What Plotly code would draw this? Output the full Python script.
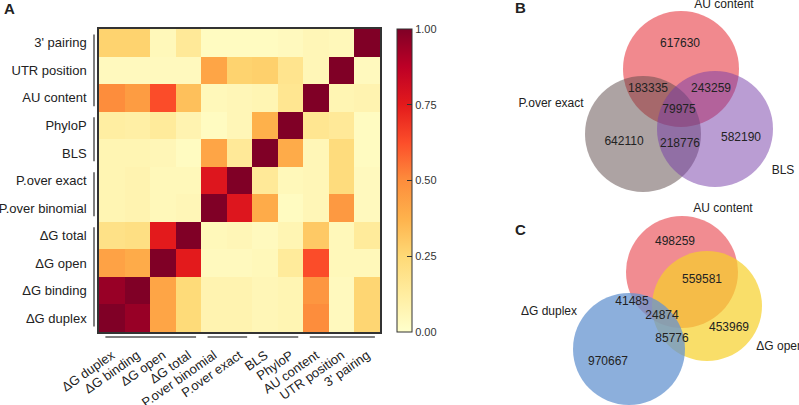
import plotly.graph_objects as go

# ---------------- data ----------------
features = ["ΔG duplex", "ΔG binding", "ΔG open", "ΔG total", "P.over binomial",
            "P.over exact", "BLS", "PhyloP", "AU content", "UTR position", "3' pairing"]

# correlation rows, listed bottom (ΔG duplex) to top (3' pairing); columns follow `features`
row_dg_duplex   = [1.00, 0.95, 0.42, 0.24, 0.08, 0.08, 0.06, 0.07, 0.50, 0.04, 0.26]
row_dg_binding  = [0.95, 1.00, 0.42, 0.24, 0.08, 0.08, 0.06, 0.07, 0.47, 0.04, 0.26]
row_dg_open     = [0.43, 0.40, 1.00, 0.75, 0.04, 0.04, 0.05, 0.14, 0.63, 0.05, 0.05]
row_dg_total    = [0.20, 0.21, 0.75, 1.00, 0.05, 0.06, 0.04, 0.07, 0.30, 0.05, 0.14]
row_pbinomial   = [0.07, 0.08, 0.05, 0.06, 1.00, 0.77, 0.40, 0.03, 0.06, 0.46, 0.04]
row_pexact      = [0.07, 0.08, 0.05, 0.05, 0.77, 1.00, 0.15, 0.05, 0.06, 0.23, 0.04]
row_bls         = [0.07, 0.07, 0.06, 0.03, 0.42, 0.15, 1.00, 0.40, 0.06, 0.23, 0.03]
row_phylop      = [0.12, 0.11, 0.14, 0.08, 0.03, 0.06, 0.38, 1.00, 0.17, 0.15, 0.03]
row_au          = [0.50, 0.45, 0.63, 0.33, 0.05, 0.06, 0.07, 0.17, 1.00, 0.07, 0.08]
row_utr         = [0.04, 0.04, 0.04, 0.04, 0.42, 0.27, 0.28, 0.18, 0.06, 1.00, 0.04]
row_pairing     = [0.27, 0.27, 0.05, 0.15, 0.03, 0.03, 0.03, 0.04, 0.06, 0.05, 1.00]

corr = [row_dg_duplex, row_dg_binding, row_dg_open, row_dg_total, row_pbinomial,
        row_pexact, row_bls, row_phylop, row_au, row_utr, row_pairing]

colorbar_ticks = [0.0, 0.25, 0.5, 0.75, 1.0]
feature_groups = [[0, 3], [4, 5], [6, 7], [8, 10]]

# Venn B: AU content / P.over exact / BLS
venn_b_sets = ["AU content", "P.over exact", "BLS"]
venn_b_counts = [617630, 642110, 582190, 183335, 243259, 218776, 79975]
# Venn C: AU content / ΔG duplex / ΔG open
venn_c_sets = ["AU content", "ΔG duplex", "ΔG open"]
venn_c_counts = [498259, 970667, 453969, 41485, 559581, 85776, 24874]

# ---------------- layout geometry (pixels) ----------------
W, H = 799, 405
hm_left, hm_right, hm_top, hm_bottom = 99, 380, 29, 332

FONT = "Liberation Sans, Arial, sans-serif"

ylorrd = [[0.0, "#ffffcc"], [0.125, "#ffeda0"], [0.25, "#fed976"], [0.375, "#feb24c"],
          [0.5, "#fd8d3c"], [0.625, "#fc4e2a"], [0.75, "#e31a1c"], [0.875, "#bd0026"],
          [1.0, "#800026"]]

fig = go.Figure()

fig.add_trace(go.Heatmap(
    z=corr, x=features, y=features, zmin=0, zmax=1, colorscale=ylorrd,
    xgap=0, ygap=0,
    colorbar=dict(
        x=397 / W, xanchor="left", y=1 - hm_top / H, yanchor="top",
        len=(hm_bottom - hm_top) / H, lenmode="fraction", thickness=15,
        outlinewidth=1, outlinecolor="#333", tickvals=colorbar_ticks,
        ticktext=[f"{v:.2f}" for v in colorbar_ticks], ticks="inside", ticklen=5,
        tickcolor="#333", tickfont=dict(size=11, color="#333", family=FONT),
        xpad=0, ypad=0,
    ),
    xaxis="x", yaxis="y",
))

# ---- Venn circles (pixel axis x2/y2) ----
def circle(cx, cy, r, color):
    return dict(type="circle", xref="x2", yref="y2", x0=cx - r, x1=cx + r,
                y0=cy - r, y1=cy + r, fillcolor=color, line=dict(width=0), layer="below")

shapes = [
    circle(681, 69, 58, "rgba(228,20,30,0.5)"),
    circle(643, 134, 58, "rgba(92,72,72,0.5)"),
    circle(715, 129, 58, "rgba(118,60,168,0.5)"),
    circle(682, 272, 56, "rgba(228,25,35,0.5)"),
    circle(707, 306, 55, "rgba(247,208,41,0.7)"),
    circle(629, 349, 56, "rgba(101,148,208,0.75)"),
]

# group brackets
for g0, g1 in feature_groups:
    shapes.append(dict(type="line", xref="x2", yref="y", x0=94, x1=94,
                       y0=g0 - 0.5 + 0.2, y1=g1 + 0.5 - 0.2,
                       line=dict(color="#555", width=1.5)))
    shapes.append(dict(type="line", xref="x", yref="y2", x0=g0 - 0.5 + 0.25,
                       x1=g1 + 0.5 - 0.2, y0=337, y1=337,
                       line=dict(color="#555", width=1.5)))

# Venn count labels
b_pos_x = [680, 624, 741, 648, 711, 680, 679]
b_pos_y = [44, 142, 138, 89, 89, 144, 110]
c_pos_x = [675, 608, 729, 632, 702, 672, 662]
c_pos_y = [242, 362, 328, 302, 280, 339, 316]

fig.add_trace(go.Scatter(
    x=b_pos_x + c_pos_x, y=b_pos_y + c_pos_y, mode="text",
    text=[str(v) for v in venn_b_counts + venn_c_counts],
    textfont=dict(size=12, color="#222", family=FONT),
    xaxis="x2", yaxis="y2", hoverinfo="skip", showlegend=False,
))

# set name labels
fig.add_trace(go.Scatter(
    x=[724, 551, 783, 723, 549, 780], y=[5, 104, 171, 209, 312, 347], mode="text",
    text=venn_b_sets + venn_c_sets,
    textfont=dict(size=12, color="#222", family=FONT),
    xaxis="x2", yaxis="y2", hoverinfo="skip", showlegend=False,
))

annotations = [
    dict(text="<b>A</b>", x=9, y=8),
    dict(text="<b>B</b>", x=520, y=7),
    dict(text="<b>C</b>", x=520, y=229),
]
annotations = [dict(a, xref="x2", yref="y2", showarrow=False,
                    font=dict(size=15, color="#222", family=FONT)) for a in annotations]

fig.update_layout(
    width=W, height=H, margin=dict(l=0, r=0, t=0, b=0, autoexpand=False),
    paper_bgcolor="white", plot_bgcolor="rgba(0,0,0,0)",
    showlegend=False, shapes=shapes, annotations=annotations,
    xaxis=dict(domain=[hm_left / W, hm_right / W], anchor="y", type="category",
               tickangle=-35, ticks="outside", ticklen=9, tickcolor="rgba(0,0,0,0)",
               tickfont=dict(size=13, color="#222", family=FONT), automargin=False,
               showline=True, mirror=True, linecolor="#333", linewidth=1.5,
               showgrid=False, zeroline=False, fixedrange=True),
    yaxis=dict(domain=[1 - hm_bottom / H, 1 - hm_top / H], anchor="x", type="category",
               ticks="outside", ticklen=8, tickcolor="rgba(0,0,0,0)",
               tickfont=dict(size=13, color="#222", family=FONT), automargin=False,
               showline=True, mirror=True, linecolor="#333", linewidth=1.5,
               showgrid=False, zeroline=False, fixedrange=True),
    xaxis2=dict(domain=[0, 1], range=[0, W], anchor="y2", visible=False, fixedrange=True),
    yaxis2=dict(domain=[0, 1], range=[H, 0], anchor="x2", visible=False, fixedrange=True),
)

fig.write_html("out.html", config={"displayModeBar": False},
               post_script="document.body.style.margin='0';document.body.style.overflow='hidden';")
